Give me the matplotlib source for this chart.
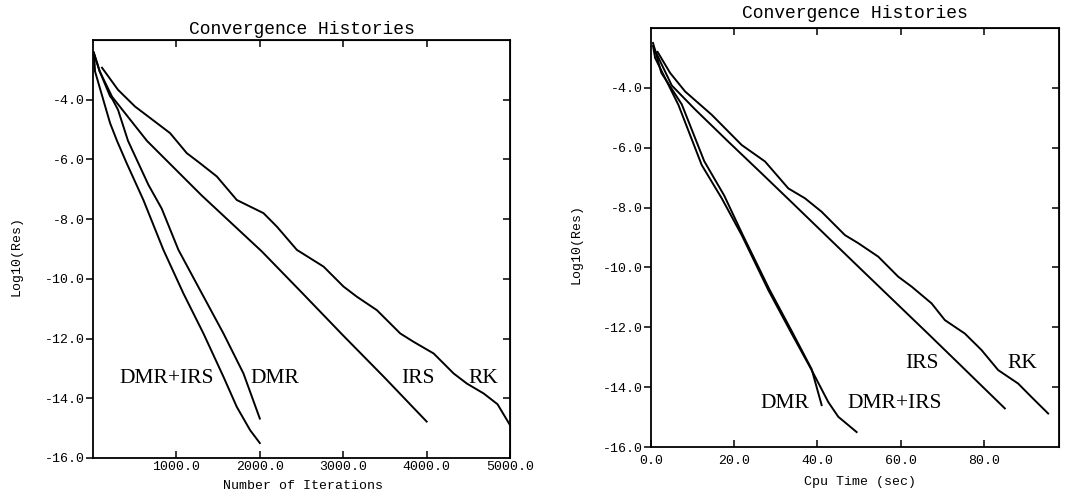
import matplotlib
matplotlib.use('Agg')
import matplotlib.pyplot as plt
from matplotlib.ticker import FormatStrFormatter

# Left panel: residual vs number of iterations
rk_it = [108, 300, 504, 764, 924, 1124, 1284, 1484, 1724, 1884, 2044, 2204, 2444, 2764, 3004, 3164,
         3404, 3684, 3844, 4084, 4324, 4484, 4684, 4850, 5000]
rk_it_res = [-2.93, -3.67, -4.23, -4.78, -5.12, -5.79, -6.13, -6.57, -7.36, -7.58, -7.80, -8.25, -9.03,
             -9.59, -10.26, -10.60, -11.05, -11.83, -12.11, -12.50, -13.17, -13.51, -13.84, -14.2, -14.9]
irs_it = [12, 80, 228, 647, 1300, 2023, 2500, 3000, 3500, 4000]
irs_it_res = [-2.45, -3.05, -3.9, -5.38, -7.2, -9.08, -10.45, -11.9, -13.32, -14.78]
dmr_it = [12, 80, 204, 232, 300, 420, 664, 824, 1024, 1284, 1564, 1804, 2000]
dmr_it_res = [-2.45, -3.05, -3.88, -3.98, -4.34, -5.38, -6.85, -7.65, -9.03, -10.38, -11.83, -13.17, -14.68]
dmrirs_it = [12, 24, 204, 288, 404, 604, 844, 1084, 1324, 1564, 1724, 1884, 2000]
dmrirs_it_res = [-2.42, -3.05, -4.78, -5.38, -6.13, -7.36, -9.03, -10.49, -11.83, -13.28, -14.29, -15.07, -15.5]

# Right panel: residual vs cpu time (sec)
rk_t = [1.6, 4.6, 8.2, 14.6, 21.8, 27.4, 33.0, 37.0, 41.0, 46.6, 49.8, 54.6, 59.4, 62.6, 67.4, 70.6,
        75.4, 79.4, 83.4, 88.2, 91.4, 95.4]
rk_t_res = [-2.8, -3.5, -4.12, -4.90, -5.91, -6.46, -7.36, -7.69, -8.14, -8.92, -9.19, -9.64, -10.31,
            -10.64, -11.20, -11.76, -12.21, -12.76, -13.43, -13.88, -14.33, -14.88]
irs_t = [0.8, 5.0, 10.6, 18.6, 26.6, 34.6, 43.0, 50.6, 58.6, 66.6, 74.6, 85.0]
irs_t_res = [-2.7, -3.92, -4.72, -5.8, -6.86, -7.93, -9.06, -10.08, -11.15, -12.22, -13.3, -14.71]
dmr_t = [0.5, 2.5, 4.6, 7.4, 12.8, 17.6, 22.0, 28.4, 33.9, 38.6, 41.0]
dmr_t_res = [-2.5, -3.5, -3.95, -4.55, -6.45, -7.6, -8.9, -10.72, -12.15, -13.4, -14.6]
dmrirs_t = [0.5, 1.0, 6.6, 12.2, 17.0, 21.8, 28.2, 33.8, 38.6, 42.6, 45.0, 49.4]
dmrirs_t_res = [-2.6, -3.0, -4.57, -6.58, -7.69, -8.92, -10.76, -12.21, -13.43, -14.5, -14.99, -15.5]

curve_names = ['RK', 'IRS', 'DMR', 'DMR+IRS']
it_xticks = [1000, 2000, 3000, 4000, 5000]
t_xticks = [0, 20, 40, 60, 80]
yticks = [-16, -14, -12, -10, -8, -6, -4]

mono = 'Liberation Mono'
serif = 'Liberation Serif'


def draw_panel(ax, xs, ys, xlim, xticks, top_ticks, xlabel, label_xy, xlab_pos, ylab_pos, xpad, title_pad):
    for x, y in zip(xs, ys):
        ax.plot(x, y, color='black', linewidth=1.4)
    for name, (lx, ly) in zip(curve_names, label_xy):
        ax.text(lx, ly, name, fontfamily=serif, fontsize=15.5, ha='center', va='center')

    ax.set_xlim(*xlim)
    ax.set_ylim(-16, -2)
    ax.set_xticks(xticks)
    ax.set_yticks(yticks)
    ax.xaxis.set_major_formatter(FormatStrFormatter('%.1f'))
    ax.yaxis.set_major_formatter(FormatStrFormatter('%.1f'))
    ax.tick_params(axis='x', direction='in', length=5, width=1.1, pad=xpad, labelsize=9.5)
    ax.tick_params(axis='y', direction='out', length=5, width=1.1, pad=1, labelsize=9.5)
    for lab in ax.get_xticklabels() + ax.get_yticklabels():
        lab.set_fontfamily(mono)
    for sp in ax.spines.values():
        sp.set_linewidth(1.3)

    # inward ticks on the top and right sides, no labels
    top = ax.secondary_xaxis('top')
    top.set_xticks(top_ticks, labels=[''] * len(top_ticks))
    top.tick_params(direction='in', length=5, width=1.1)
    right = ax.secondary_yaxis('right')
    right.set_yticks(yticks[1:], labels=[''] * len(yticks[1:]))
    right.tick_params(direction='in', length=5, width=1.1)

    ax.set_title('Convergence Histories', fontfamily=mono, fontsize=13, pad=title_pad)
    ax.set_xlabel(xlabel, fontfamily=mono, fontsize=9.5)
    ax.set_ylabel('Log10(Res)', fontfamily=mono, fontsize=9.5)
    ax.xaxis.set_label_coords(*xlab_pos)
    ax.yaxis.set_label_coords(*ylab_pos)


fig = plt.figure(figsize=(10.74, 4.94), dpi=100)
ax1 = fig.add_axes([0.0866, 0.0729, 0.3883, 0.8462])
ax2 = fig.add_axes([0.6061, 0.0951, 0.3799, 0.8482])

draw_panel(ax1,
           [rk_it, irs_it, dmr_it, dmrirs_it],
           [rk_it_res, irs_it_res, dmr_it_res, dmrirs_it_res],
           (0, 5000), it_xticks, [1000, 2000, 3000, 4000], 'Number of Iterations',
           [(4680, -13.33), (3897, -13.33), (2182, -13.33), (887, -13.33)],
           (0.504, -0.053), (-0.170, 0.483), 2, 4.5)

draw_panel(ax2,
           [rk_t, irs_t, dmr_t, dmrirs_t],
           [rk_t_res, irs_t_res, dmr_t_res, dmrirs_t_res],
           (0, 98), t_xticks, [20, 40, 60, 80], 'Cpu Time (sec)',
           [(89.2, -13.2), (65.2, -13.2), (32.1, -14.54), (58.5, -14.54)],
           (0.512, -0.069), (-0.167, 0.484), 6, 7)

fig.savefig('out.png', dpi=100)
